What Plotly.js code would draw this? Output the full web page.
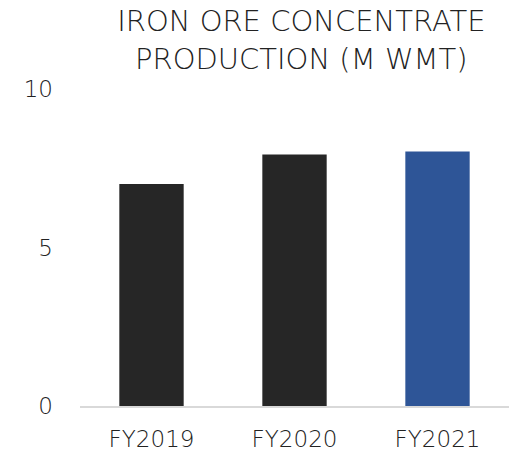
<!DOCTYPE html>
<html>
<head>
<meta charset="utf-8">
<script src="https://cdn.plot.ly/plotly-3.0.1.min.js"></script>
<style>html,body{margin:0;padding:0;background:#fff;}#chart{width:514px;height:453px;}</style>
</head>
<body>
<div id="chart"></div>
<script>
const categories = ['FY2019', 'FY2020', 'FY2021'];
const production = [7.0, 7.93, 8.03];
const barColors = ['#262626', '#262626', '#2e5597'];
const yTickValues = [0, 5, 10];

const trace = {
  type: 'bar',
  x: categories,
  y: production,
  width: 0.45,
  marker: {color: barColors},
  hoverinfo: 'x+y'
};

const layout = {
  width: 514,
  height: 453,
  margin: {l: 80, r: 5, t: 89, b: 47},
  paper_bgcolor: '#ffffff',
  plot_bgcolor: '#ffffff',
  showlegend: false,
  font: {family: 'DejaVu Sans, sans-serif', color: '#222222', weight: 300},
  title: {
    text: 'IRON ORE CONCENTRATE<br>PRODUCTION (M WMT)',
    font: {size: 29, color: '#222222', family: 'DejaVu Sans, sans-serif', weight: 300},
    xref: 'paper', x: 0.516, xanchor: 'center',
    yref: 'container', y: 0.932, yanchor: 'middle'
  },
  xaxis: {
    type: 'category',
    showgrid: false,
    showline: true,
    linecolor: '#d9d9d9',
    linewidth: 1.5,
    ticks: '',
    ticklabelstandoff: 12,
    tickfont: {size: 23, color: '#222222', weight: 300},
    zeroline: false
  },
  yaxis: {
    range: [0, 10],
    tickvals: yTickValues,
    ticktext: yTickValues.map(String),
    showgrid: false,
    showline: false,
    zeroline: false,
    ticks: '',
    ticklabelstandoff: 26,
    tickfont: {size: 23, color: '#222222', weight: 300}
  },
  bargap: 0.55
};

Plotly.newPlot('chart', [trace], layout, {displayModeBar: false, staticPlot: true});
</script>
</body>
</html>
